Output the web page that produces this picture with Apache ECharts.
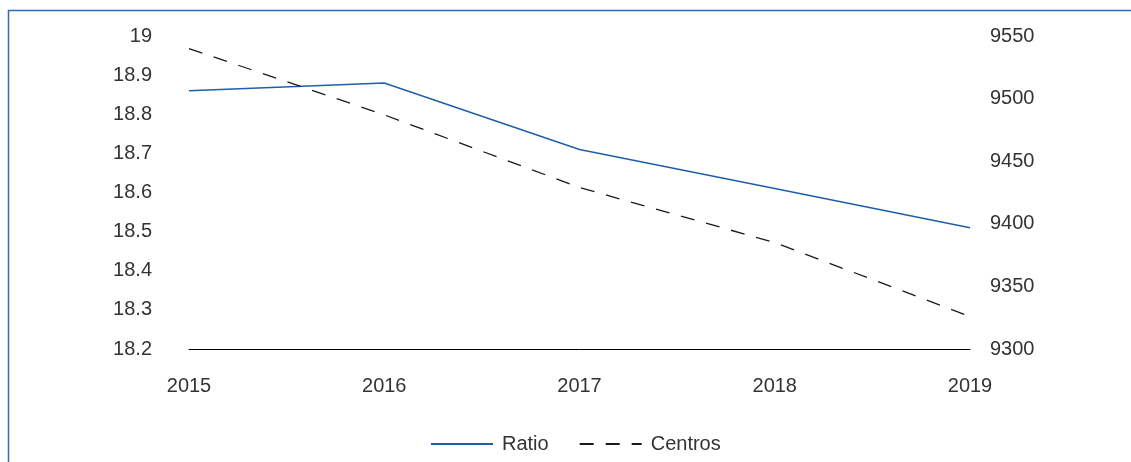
<!DOCTYPE html>
<html>
<head>
<meta charset="utf-8">
<script src="https://cdn.jsdelivr.net/npm/echarts@6/dist/echarts.min.js"></script>
<style>
  html, body { margin: 0; padding: 0; background: #fff; }
  #chart { width: 1131px; height: 462px; }
</style>
</head>
<body>
<div id="chart"></div>
<script>
// Years on the horizontal axis
const years = ['2015', '2016', '2017', '2018', '2019'];
// Ratio (left axis)
const ratio = [18.86, 18.88, 18.71, 18.61, 18.51];
// Number of centres (right axis)
const centros = [9540, 9487, 9429, 9385, 9326];

const textColor = '#333333';
const font = 'Liberation Sans';

const chart = echarts.init(document.getElementById('chart'), null, { renderer: 'canvas' });
chart.setOption({
  backgroundColor: '#ffffff',
  animation: false,
  graphic: [{
    type: 'rect',
    shape: { x: 8.5, y: 10.5, width: 1200, height: 600 },
    style: { fill: 'none', stroke: '#2f6db5', lineWidth: 1.5 },
    silent: true
  }],
  grid: { left: 189, right: 161, top: 36, bottom: 113 },
  legend: {
    bottom: 3,
    left: 425,
    itemWidth: 62,
    itemHeight: 14,
    itemGap: 30,
    itemStyle: { opacity: 0 },
    textStyle: { color: textColor, fontSize: 20, fontFamily: font, padding: [0, 0, 0, 4] },
    data: ['Ratio', 'Centros']
  },
  xAxis: {
    type: 'category',
    data: years,
    boundaryGap: false,
    axisLine: { lineStyle: { color: '#000', width: 1 } },
    axisTick: { show: false },
    axisLabel: { color: textColor, fontSize: 20, fontFamily: font, margin: 27 }
  },
  yAxis: [{
    type: 'value',
    min: 18.2,
    max: 19,
    interval: 0.1,
    axisLine: { show: false },
    axisTick: { show: false },
    splitLine: { show: false },
    axisLabel: {
      color: textColor, fontSize: 20, fontFamily: font, margin: 37,
      formatter: v => String(Math.round(v * 10) / 10)
    }
  }, {
    type: 'value',
    min: 9300,
    max: 9550,
    interval: 50,
    axisLine: { show: false },
    axisTick: { show: false },
    splitLine: { show: false },
    axisLabel: {
      color: textColor, fontSize: 20, fontFamily: font, margin: 20,
      formatter: v => String(v)
    }
  }],
  series: [{
    name: 'Ratio',
    type: 'line',
    yAxisIndex: 0,
    data: ratio,
    symbol: 'none',
    lineStyle: { color: '#1f5fa8', width: 1.5 },
    itemStyle: { color: '#1f5fa8' }
  }, {
    name: 'Centros',
    type: 'line',
    yAxisIndex: 1,
    data: centros,
    symbol: 'none',
    lineStyle: { color: '#1a1a1a', width: 1.3, type: [14, 12] },
    itemStyle: { color: '#1a1a1a' }
  }]
});
</script>
</body>
</html>
